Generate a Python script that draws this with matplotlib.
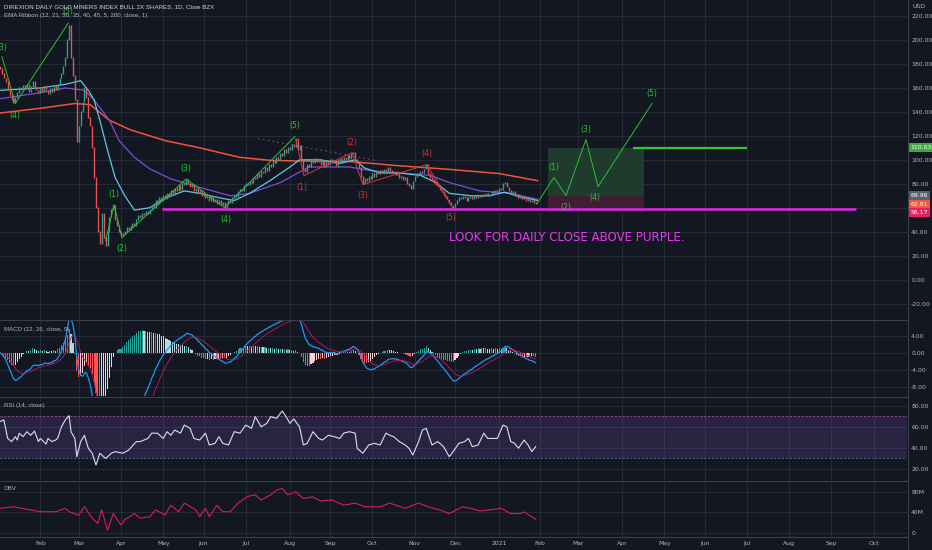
import numpy as np
import pandas as pd
import matplotlib
matplotlib.use("Agg")
import matplotlib.pyplot as plt
from matplotlib.transforms import blended_transform_factory

# --- data (x = trading-day index, 0 = 3 Jan 2020) ---
closes = [
    176, 172, 168, 165, 158, 154, 150, 147, 152, 156, 160, 158, 162, 159, 163, 157, 161, 165, 160, 158,
    156, 160, 157, 161, 158, 155, 159, 157, 162, 158, 163, 168, 172, 178, 185, 200, 212, 185, 170,
    150, 115, 128, 140, 148, 160, 152, 135, 128, 110, 85, 60, 40, 30, 55, 35, 28, 40, 52, 58, 62,
    50, 45, 40, 36, 38, 40, 43, 41, 44, 47, 45, 50, 53, 51, 55, 54, 57, 55, 58, 62,
    60, 66, 63, 68, 66, 70, 67, 72, 70, 74, 71, 76, 74, 78, 75, 80, 79, 83,
    80, 77, 79, 74, 76, 72, 74, 70, 72, 68, 70, 66, 69, 65, 67, 63, 66, 62, 64, 60,
    63, 66, 64, 68, 70, 69, 73, 75, 74, 78, 80, 79, 82, 81, 85, 84, 88, 86, 90, 89,
    93, 91, 96, 94, 99, 97, 102, 100, 105, 103, 108, 106, 110, 108, 113, 111,
    118, 108, 112, 100, 92, 90, 96, 94, 100, 97, 101, 98, 100, 96, 99, 94, 98, 96, 100, 97,
    99, 95, 98, 101, 99, 102, 100, 103, 101, 105, 106, 100, 97, 93, 86, 80, 84, 82, 86, 84,
    88, 86, 90, 88, 91, 89, 92, 90, 93, 91, 89, 90, 87, 88, 85, 86, 83, 85, 80, 78,
    76, 82, 86, 88, 87, 90, 89, 92, 96, 88, 85, 83, 81, 79, 77, 75, 73, 71, 69, 67,
    64, 62, 60,
    63, 66, 68, 67, 69, 68, 66, 68, 69, 67, 70, 68, 70, 69, 71, 70, 72, 70, 71, 73,
    72, 74, 73, 76, 75, 80, 81, 77, 74, 72, 73, 70, 71, 68, 69, 67, 68, 66, 67, 65,
    66, 64, 62.81,
]

ema_fast_x = [0, 21, 34, 42, 46, 49, 52, 56, 60, 65, 70, 78, 86, 96, 104, 115, 122, 130, 141, 151,
              156, 167, 177, 185, 190, 198, 208, 219, 227, 234, 245, 255, 263, 271, 280]
ema_fast_y = [158, 160, 163, 166, 158, 150, 133, 108, 85, 70, 58, 60, 68, 74, 72, 68, 66, 72, 83, 94,
              100, 100, 97, 100, 93, 89, 89, 87, 81, 72, 70, 70, 73, 69, 66]
ema_mid_x = [0, 21, 34, 44, 49, 57, 62, 70, 78, 89, 104, 120, 130, 146, 154, 161, 172, 182, 193,
             208, 224, 234, 250, 266, 280]
ema_mid_y = [151, 156, 160, 158, 150, 133, 116, 102, 92.5, 84, 77, 70, 72, 81, 88, 94, 94, 94, 91,
             89, 87, 81, 74, 72, 67]
ema200_x = [0, 21, 39, 47, 57, 68, 86, 104, 125, 141, 156, 182, 208, 234, 260, 280]
ema200_y = [139, 143, 147, 146, 133, 125, 116, 110, 102, 99.5, 99, 98.6, 95, 92, 88.5, 82.6]

rsi_x = [0, 2, 4, 6, 8, 9, 10, 12, 14, 16, 18, 20, 21, 24, 25, 27, 29, 30, 32, 34, 36, 37, 39, 40,
         42, 44, 46, 48, 50, 52, 55, 58, 60, 64, 67, 71, 73, 77, 79, 82, 85, 87, 89, 91, 94, 96,
         99, 101, 104, 107, 109, 112, 114, 116, 119, 122, 125, 128, 131, 133, 136, 139, 141, 144,
         147, 149, 151, 153, 156, 158, 160, 163, 166, 168, 171, 174, 177, 179, 182, 185, 186, 189,
         192, 195, 198, 201, 203, 205, 208, 211, 213, 215, 218, 220, 222, 225, 228, 231, 234, 236,
         239, 242, 244, 246, 249, 252, 254, 257, 259, 262, 264, 266, 268, 270, 273, 275, 277, 279]
rsi_v = [65, 66.5, 49, 46, 50.7, 47.5, 54, 50.7, 55.4, 52, 56, 46, 49, 43.7, 49, 46, 47.5, 49, 60,
         66.5, 70.6, 55.4, 49, 31.7, 46, 52, 39.7, 35, 23.8, 35, 30, 35, 36.5, 35, 38, 46, 46, 49,
         54, 54, 49, 55.4, 52, 57, 54, 61.7, 58.6, 49, 47.5, 54, 42.8, 44.4, 50.7, 44.4, 42.8,
         55.4, 54, 61.7, 58.6, 69.6, 60, 63.4, 69.6, 68, 75, 69.6, 63.4, 67.5, 60, 42.8, 44.4, 55.4,
         49, 47.5, 52, 50.7, 49, 54, 55.4, 54, 39.7, 35, 42.8, 44.4, 42.8, 54, 52, 50.7, 46, 42.8,
         39.7, 33.3, 46, 57, 58.6, 42.8, 46, 41.2, 31.7, 36.5, 44.4, 46, 49, 41.2, 42.8, 54, 49,
         49, 49, 61.7, 60, 46, 44.4, 39.7, 47.5, 42.8, 36.5, 41.2]

obv_x = [0, 7, 21, 29, 34, 36, 41, 44, 48, 51, 53, 56, 59, 63, 65, 70, 73, 78, 81, 86, 89, 93, 96,
         102, 104, 107, 109, 113, 116, 120, 124, 129, 133, 136, 141, 144, 147, 150, 154, 158, 163,
         167, 173, 179, 185, 190, 198, 203, 211, 218, 223, 229, 234, 241, 245, 250, 255, 261, 266,
         271, 273, 279]
obv_m = [48, 51, 41.5, 41.5, 48, 41.5, 35, 51, 29, 19, 45, 6, 38, 16, 26, 38, 29, 32, 45, 35, 54,
         41.5, 58, 45, 32, 48, 32, 54, 41.5, 41.5, 58, 71, 74, 64, 74, 83, 86, 74, 80, 67, 70, 62,
         64, 54, 58, 51, 51, 58, 48, 58, 51, 45, 38, 51, 48, 43, 45, 48, 38, 38, 41, 27]

# elliott wave drawings (x index, price)
wave_top = [(1, 186), (8, 147), (35.5, 214)]
wave_up = [(55, 32.6), (59.4, 62.6), (63.5, 35), (97, 84), (117, 60), (153.6, 119.5)]
wave_down = [(154, 117.6), (158.3, 86.8), (183.3, 106), (189, 79.3), (222.4, 96), (236, 59)]
wave_proj = [(279.7, 63.4), (288.5, 85.2), (294.8, 70.1), (305.2, 117), (311.5, 77.6), (339.6, 147)]
labels_green = [("(3)", 1, 194), ("(4)", 8, 137), ("(5)", 35.4, 223.4), ("(1)", 59.4, 71),
                ("(2)", 63.5, 25.7), ("(3)", 96.9, 92.7), ("(4)", 117.7, 50.2), ("(5)", 153.6, 128.7)]
labels_red = [("(1)", 157.3, 76.8), ("(2)", 183.3, 114.5), ("(3)", 189, 70), ("(4)", 222.4, 105.3),
              ("(5)", 234.9, 51.7)]
labels_proj = [("(1)", 288.5, 93.6), ("(2)", 294.8, 60), ("(3)", 305.2, 125.4), ("(4)", 309.9, 68.4),
               ("(5)", 339.6, 155.5)]
entry, target, stop = 69.96, 110.03, 56.17
last_close = 62.81
support = 59.3
box_x = (285.4, 335.4)
support_x = (84.4, 445.8)
target_line_x = (329.7, 389)

month_names = ["Feb", "Mar", "Apr", "May", "Jun", "Jul", "Aug", "Sep", "Oct", "Nov", "Dec",
               "2021", "Feb", "Mar", "Apr", "May", "Jun", "Jul", "Aug", "Sep", "Oct"]

# --- styling ---
BG = "#131722"
GRID = "#2a2e39"
TXT = "#b2b5be"
SEP = "#3a3e4a"
W, H = 932, 550
XMAX = 907 / 1.92

close = pd.Series(closes, dtype=float)
opens = close.shift(1).fillna(178.0)
idx = np.arange(len(close))

# month tick positions on a weekday index
days = pd.bdate_range("2020-01-03", "2021-10-29")
first = pd.Series(np.arange(len(days)), index=days).groupby([days.year, days.month]).first().values
month_pos = [p for p in first if p > 10][:len(month_names)]

fig = plt.figure(figsize=(W / 100, H / 100), dpi=100, facecolor=BG)


def pane(top, bottom, share=None):
    a = fig.add_axes([0, 1 - bottom / H, 907 / W, (bottom - top) / H], sharex=share)
    a.set_facecolor(BG)
    for s in a.spines.values():
        s.set_visible(False)
    a.yaxis.tick_right()
    a.tick_params(axis="y", length=0, labelsize=4.4, labelcolor=TXT, pad=3)
    a.tick_params(axis="x", length=0, labelsize=4.4, labelcolor=TXT, pad=3)
    a.grid(True, color=GRID, lw=0.6)
    a.set_axisbelow(True)
    return a


ax = pane(0, 319)
ax_macd = pane(320, 396, ax)
ax_rsi = pane(397, 480, ax)
ax_obv = pane(481, 536.5, ax)
ax.set_xlim(0, XMAX)
ax.set_xticks(month_pos)
for a in (ax, ax_macd, ax_rsi):
    a.tick_params(labelbottom=False)
ax_obv.set_xticklabels(month_names)

# --- main price pane ---
ax.set_ylim(-32.9, 233.4)
ticks = list(range(-20, 221, 20))
ax.set_yticks(ticks)
ax.set_yticklabels([f"{t:.2f}" for t in ticks])

rect_kw = dict(ec="none", zorder=1)
ax.fill_between(box_x, entry, target, color="#1e3b2e", **rect_kw)
ax.fill_between(box_x, stop, entry, color="#3f1e33", **rect_kw)

ax.plot(ema200_x, ema200_y, color="#f0553a", lw=1.1, zorder=3)
ax.plot(ema_mid_x, ema_mid_y, color="#7b4fd6", lw=0.9, zorder=3)
ax.plot(ema_fast_x, ema_fast_y, color="#5ec8e0", lw=0.9, zorder=3)

up = close >= opens
lo = np.minimum(opens, close)
hi = np.maximum(opens, close)
ax.vlines(idx[up], lo[up], hi[up] + 0.6, color="#26a69a", lw=0.95, zorder=4)
ax.vlines(idx[~up], lo[~up], hi[~up] + 0.6, color="#ef5350", lw=0.95, zorder=4)

ax.hlines(support, *support_x, color="#d62ad6", lw=1.9, zorder=5)
ax.hlines(target, *target_line_x, color="#33c733", lw=1.6, zorder=5)
ax.plot([134.4, 195.3], [117.8, 99.6], color="#8e3f86", lw=0.7, ls=(0, (2, 3)), zorder=2)

for pts, col in ((wave_top, "#2fbf2f"), (wave_up, "#2fbf2f"), (wave_down, "#d83a3a"),
                 (wave_proj, "#2fbf2f")):
    xs, ys = zip(*pts)
    ax.plot(xs, ys, color=col, lw=0.7, zorder=5)
for t, x, y in labels_green:
    ax.text(x, y, t, color="#22cc22", fontsize=5.6, ha="center", va="center", zorder=6)
for t, x, y in labels_red:
    ax.text(x, y, t, color="#d93636", fontsize=5.6, ha="center", va="center", zorder=6)
for t, x, y in labels_proj:
    c = "#7d9a7d" if t == "(2)" else "#22cc22"
    ax.text(x, y, t, color=c, fontsize=5.6, ha="center", va="center", zorder=6)

ax.text(295.3, 34.8, "LOOK FOR DAILY CLOSE ABOVE PURPLE.", color="#e03ce8", fontsize=8.6,
        family=["Liberation Sans Narrow", "DejaVu Sans"], ha="center", va="center", zorder=6)

tr = blended_transform_factory(ax.transAxes, ax.transData)
for val, col in ((target, "#43a843"), (entry, "#5d606b"), (last_close, "#f0573f"), (stop, "#e0245e")):
    ax.text(1.004, val, f"{val:.2f}", transform=tr, color="white", fontsize=4.4, va="center",
            ha="left", clip_on=False, zorder=10,
            bbox=dict(boxstyle="square,pad=0.35", fc=col, ec="none"))

# --- MACD ---
ema12 = close.ewm(span=12, adjust=False).mean()
ema26 = close.ewm(span=26, adjust=False).mean()
macd = ema12 - ema26
signal = macd.ewm(span=9, adjust=False).mean()
hist = macd - signal
prev = hist.shift(1).fillna(0)
hcol = np.where(hist >= 0, np.where(hist >= prev, "#26a69a", "#b2dfdb"),
                np.where(hist < prev, "#ff5252", "#ffcdd2"))
ax_macd.bar(idx, hist, width=0.6, color=hcol, zorder=2)
ax_macd.plot(idx, macd, color="#2196f3", lw=0.9, zorder=3)
ax_macd.plot(idx, signal, color="#c2185b", lw=0.6, zorder=3)
ax_macd.set_ylim(-10.1, 7.76)
ax_macd.set_yticks([4, 0, -4, -8])
ax_macd.set_yticklabels(["4.00", "0.00", "-4.00", "-8.00"])

# --- RSI ---
ax_rsi.axhspan(30, 70, color="#7e57c2", alpha=0.2, lw=0, zorder=1)
ax_rsi.axhline(70, color="#8a4f96", lw=0.7, ls=(0, (2, 2)), zorder=2)
ax_rsi.axhline(30, color="#4d6a96", lw=0.7, ls=(0, (2, 2)), zorder=2)
ax_rsi.plot(rsi_x, rsi_v, color="#dcdff0", lw=0.8, zorder=3)
ax_rsi.set_ylim(9.6, 88.3)
ax_rsi.set_yticks([80, 60, 40, 20])
ax_rsi.set_yticklabels(["80.00", "60.00", "40.00", "20.00"])

# --- OBV ---
ax_obv.plot(obv_x, obv_m, color="#d81b60", lw=0.8, zorder=3)
ax_obv.set_ylim(-6.2, 100.6)
ax_obv.set_yticks([80, 40, 0])
ax_obv.set_yticklabels(["80M", "40M", "0"])

# pane separators and right border
for yy in (319.5, 396.5, 480.5, 536.5):
    fig.add_artist(plt.Line2D([0, 907 / W], [1 - yy / H] * 2, color=SEP, lw=0.8))
fig.add_artist(plt.Line2D([907.5 / W] * 2, [0, 1], color=SEP, lw=0.8))

# header texts
font = ["Liberation Sans", "DejaVu Sans"]
fig.text(4 / W, 1 - 7 / H, "DIREXION DAILY GOLD MINERS INDEX BULL 2X SHARES, 1D, Cboe BZX",
         color="#d1d4dc", fontsize=4.4, va="center", family=font)
fig.text(4 / W, 1 - 16 / H, "EMA Ribbon (12, 21, 50, 35, 40, 45, 5, 200, close, 1)",
         color=TXT, fontsize=4.4, va="center", family=font)
fig.text(4 / W, 1 - 330 / H, "MACD (12, 26, close, 9)", color=TXT, fontsize=4.4, va="center",
         family=font)
fig.text(4 / W, 1 - 405 / H, "RSI (14, close)", color=TXT, fontsize=4.4, va="center", family=font)
fig.text(4 / W, 1 - 489 / H, "OBV", color=TXT, fontsize=4.4, va="center", family=font)
fig.text(919 / W, 1 - 7 / H, "USD", color=TXT, fontsize=4.4, va="center", ha="center")

fig.savefig("out.png", dpi=100, facecolor=BG)
